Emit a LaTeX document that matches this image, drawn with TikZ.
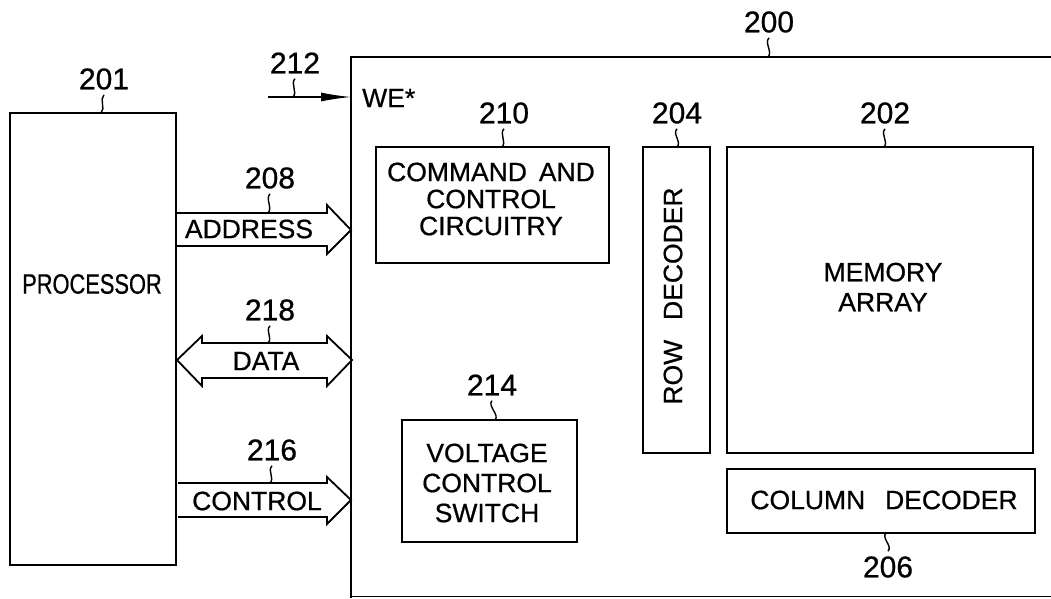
\documentclass[tikz,border=0pt]{standalone}
\usepackage{fontspec}
\setmainfont{Liberation Sans}[FakeBold=0.7]
\usepackage{graphicx}
\usetikzlibrary{arrows.meta,calc}
\begin{document}
\begin{tikzpicture}[x=1pt,y=-1pt,
  box/.style={draw,line width=1.8pt,inner sep=0pt},
  txt/.style={font=\fontsize{26.5}{27}\selectfont,align=center,inner sep=0pt},
  txtb/.style={font=\fontsize{26.5}{30}\selectfont,align=center,inner sep=0pt},
  num/.style={font=\fontsize{30}{30}\selectfont,inner sep=5pt},
  bus/.style={draw,line width=1.8pt,line join=miter},
  squig/.style={line width=1.4pt,to path={.. controls +(-5,5) and +(5,-5) .. (\tikztotarget)}}]
\useasboundingbox (0,0) rectangle (1051,598);

% enclosing device 200
\draw[line width=1.8pt] (1051,57) -- (351,57) -- (351,598);
\draw[line width=1pt] (351,596) -- (1051,596);
\coordinate (t200) at (768,57);
\node[num] (l200) at (769,22) {200};
\draw[squig] (l200.south) to (t200);

% processor
\node[box,minimum width=166pt,minimum height=452pt] (p) at (93,339) {};
\node[inner sep=0pt,font=\fontsize{28}{28}\selectfont] (ptxt) at (92,284) {\scalebox{0.78}[1]{PROCESSOR}};
\coordinate (t201) at (101,113);
\node[num] (l201) at (104,79) {201};
\draw[squig] (l201.south) to (t201);

% WE* input 212
\coordinate (we0) at (268,97);
\coordinate (we1) at (351,97);
\draw[line width=1.4pt,-{Latex[length=30pt,width=9pt]}] (we0) -- (we1);
\node[txt,anchor=west] (we) at (362,98) {WE*};
\coordinate (t212) at (293,97);
\node[num] (l212) at (295,63) {212};
\draw[squig] (l212.south) to (t212);

% command and control 210
\node[box,minimum width=233pt,minimum height=116pt] (cc) at (492.5,205) {};
\node[txt] (cctxt) at (491,199) {COMMAND\hspace{0.45em}AND\\CONTROL\\CIRCUITRY};
\coordinate (t210) at (502,147);
\node[num] (l210) at (504,113) {210};
\draw[squig] (l210.south) to (t210);

% row decoder 204
\node[box,minimum width=67pt,minimum height=306pt] (rd) at (676.5,300) {};
\node[txt,rotate=90] (rdtxt) at (673,296) {ROW\hspace{0.75em}DECODER};
\coordinate (t204) at (677,147);
\node[num] (l204) at (677,113) {204};
\draw[squig] (l204.south) to (t204);

% memory array 202
\node[box,minimum width=306pt,minimum height=306pt] (ma) at (880,300) {};
\node[txtb] (matxt) at (883,287) {MEMORY\\ARRAY};
\coordinate (t202) at (884,147);
\node[num] (l202) at (885,113) {202};
\draw[squig] (l202.south) to (t202);

% column decoder 206
\node[box,minimum width=308pt,minimum height=64pt] (cd) at (881,501) {};
\node[txt] (cdtxt) at (884,500) {COLUMN\hspace{0.75em}DECODER};
\coordinate (t206) at (886,533);
\node[num] (l206) at (888,567) {206};
\draw[squig] (t206) to (l206.north);

% voltage control switch 214
\node[box,minimum width=175pt,minimum height=122pt] (vs) at (489.5,481) {};
\node[txtb] (vstxt) at (487,483) {VOLTAGE\\CONTROL\\SWITCH};
\coordinate (t214) at (495,420);
\node[num] (l214) at (492,385) {214};
\draw[squig] (l214.south) to (t214);

% address bus 208
\draw[bus] (176,213) -- (327,213) -- (327,205) -- (351,230) -- (327,254) -- (327,246) -- (176,246);
\node[txt] (addr) at (249,229) {ADDRESS};
\coordinate (t208) at (268,213);
\node[num] (l208) at (270,178) {208};
\draw[squig] (l208.south) to (t208);

% data bus 218
\draw[bus] (177,360) -- (202,336) -- (202,343) -- (327,343) -- (327,336) -- (352,360) -- (327,386) -- (327,378) -- (202,378) -- (202,386) -- cycle;
\node[txt] (data) at (266,361) {DATA};
\coordinate (t218) at (268,343);
\node[num] (l218) at (270,310) {218};
\draw[squig] (l218.south) to (t218);

% control bus 216
\draw[bus] (178,483) -- (327,483) -- (327,477) -- (351,500) -- (327,524) -- (327,517) -- (178,517);
\node[txt] (ctrl) at (257,501) {CONTROL};
\coordinate (t216) at (270,483);
\node[num] (l216) at (272,450) {216};
\draw[squig] (l216.south) to (t216);
\end{tikzpicture}
\end{document}
